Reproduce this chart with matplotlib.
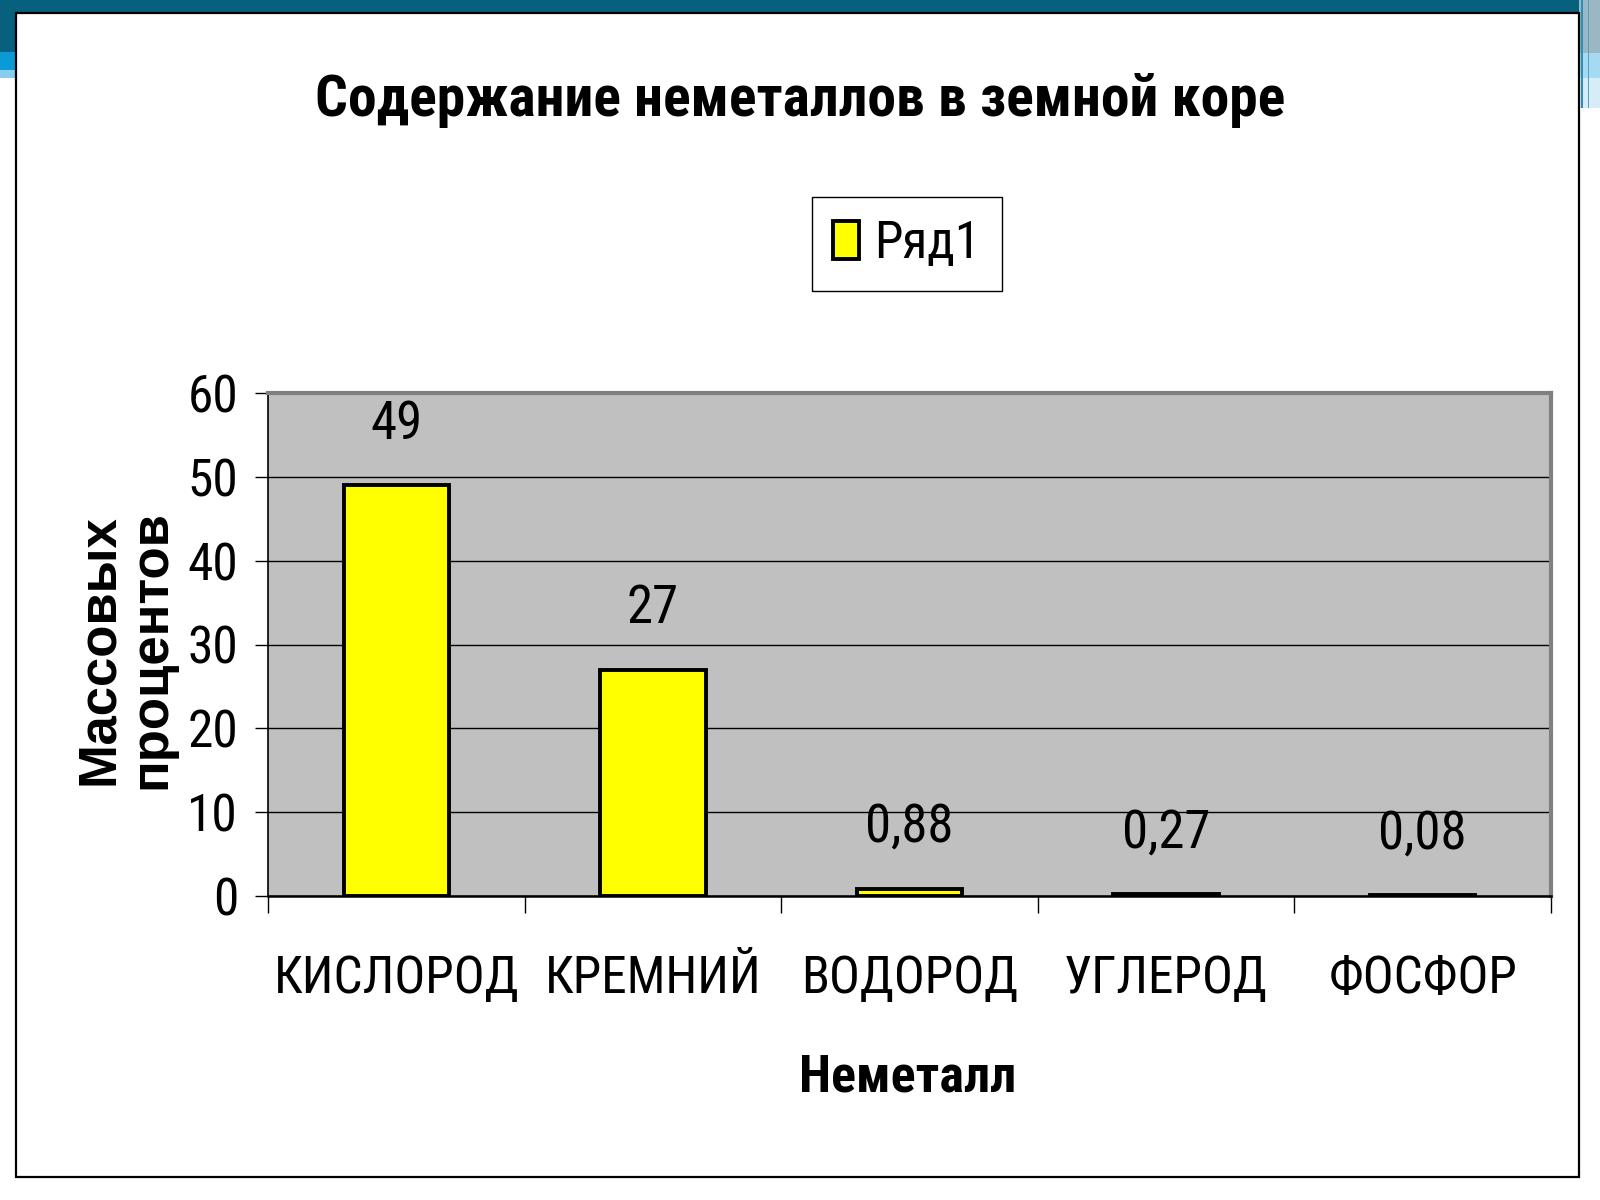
import matplotlib
matplotlib.use("Agg")
import matplotlib.pyplot as plt
from matplotlib.patches import Rectangle

# data
categories = ["КИСЛОРОД", "КРЕМНИЙ", "ВОДОРОД", "УГЛЕРОД", "ФОСФОР"]
values = [49, 27, 0.88, 0.27, 0.08]
series_name = "Ряд1"
title = "Содержание неметаллов в земной коре"
xlabel = "Неметалл"
ylabel = "Массовых\nпроцентов"
yticks = [0, 10, 20, 30, 40, 50, 60]

plt.rcParams["font.family"] = ["Roboto Condensed", "DejaVu Sans"]

fig = plt.figure(figsize=(16, 12), dpi=100, facecolor="white")
W, H = 1600, 1200

def frect(x0, y0, x1, y1, **kw):
    # rectangle in pixel coords (top-left origin) drawn behind everything
    fig.patches.append(Rectangle((x0 / W, 1 - y1 / H), (x1 - x0) / W, (y1 - y0) / H,
                                 transform=fig.transFigure, zorder=-10, **kw))

# slide decoration
frect(0, 0, 1600, 13, facecolor="#07607E", edgecolor="none")
frect(0, 0, 16, 52, facecolor="#07607E", edgecolor="none")
frect(0, 52, 16, 70, facecolor="#0B9AD6", edgecolor="none")
frect(0, 70, 16, 78, facecolor="#86CDEE", edgecolor="none")
frect(1579, 0, 1600, 53, facecolor="#9AB8C4", edgecolor="none")
frect(1579, 53, 1600, 78, facecolor="#A6DAF2", edgecolor="none")
frect(1579, 78, 1600, 108, facecolor="#D6ECF6", edgecolor="none")
frect(1581, 0, 1583, 108, facecolor="#2C8FB8", edgecolor="none")
frect(1588, 0, 1589, 108, facecolor="#5A9DBA", edgecolor="none")
frect(16, 13, 1579, 1177, facecolor="white", edgecolor="black", linewidth=1.6)

ax = fig.add_axes([268 / W, 1 - 896 / H, (1551 - 268) / W, (896 - 393) / H])
ax.set_facecolor("#C0C0C0")
x = range(len(categories))
ax.bar(x, values, width=0.41, color="#FFFF00", edgecolor="black", linewidth=2.8,
       label=series_name, zorder=3)

for i, v in enumerate(values):
    ax.annotate(f"{v:g}".replace(".", ","), (i, v), xytext=(0, 44),
                textcoords="offset points", ha="center", va="center", fontsize=38)

ax.set_xlim(-0.5, len(categories) - 0.5)
ax.set_ylim(0, 60)
ax.set_yticks(yticks)
ax.tick_params(axis="y", labelsize=37, length=9.5, width=1, pad=12)
ax.set_xticks([i - 0.5 for i in range(len(categories) + 1)])
ax.set_xticklabels([])
ax.set_xticks(list(x), minor=True)
ax.set_xticklabels(categories, minor=True, fontsize=37)
ax.tick_params(axis="x", which="major", length=12, width=1)
ax.tick_params(axis="x", which="minor", length=0, pad=42)

ax.yaxis.grid(True, color="black", linewidth=1)
ax.set_axisbelow(True)
ax.spines["left"].set_color("black")
ax.spines["left"].set_linewidth(1.2)
ax.spines["bottom"].set_color("black")
ax.spines["bottom"].set_linewidth(1.8)
for s in ("top", "right"):
    ax.spines[s].set_color("#808080")
    ax.spines[s].set_linewidth(3)

fig.text(800 / W, 1 - 100 / H, title, ha="center", va="center", fontsize=41.5, fontweight="bold")
fig.text(908 / W, 1 - 1078 / H, xlabel, ha="center", va="center", fontsize=37.5, fontweight="bold")
fig.text(125 / W, 1 - 650 / H, ylabel, ha="center", va="center", rotation=90,
         fontsize=38, fontweight="bold", family=["Liberation Sans", "DejaVu Sans"],
         multialignment="center", linespacing=1.05)

fig.legend(loc="center", bbox_to_anchor=(907 / W, 1 - 244 / H), fontsize=37,
           fancybox=False, framealpha=1, edgecolor="black", handlelength=0.5,
           handleheight=0.75, handletextpad=0.3, borderpad=0.42, borderaxespad=0,
           handler_map=None)
fig.legends[0].get_frame().set_linewidth(1)

fig.savefig("out.png", dpi=100, facecolor=fig.get_facecolor())
